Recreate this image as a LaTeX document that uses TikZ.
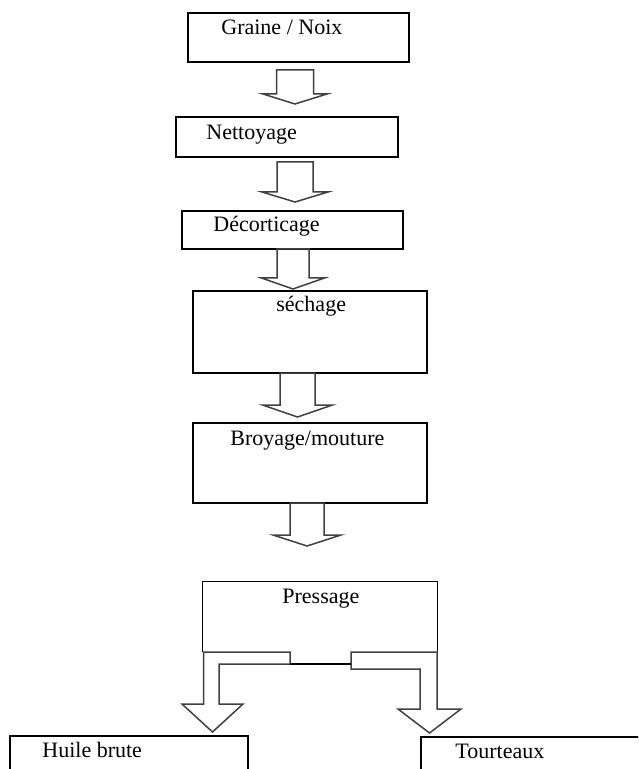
\documentclass[tikz,border=0pt]{standalone}
\usepackage{fontspec}
\setmainfont{Liberation Serif}
\usetikzlibrary{positioning}

% block arrow pointing down: x centre, top, start of head, tip, half shaft, half head
\newcommand{\fleche}[6]{%
  \draw[fleche] ({#1-#5},#2) -- ({#1+#5},#2) -- ({#1+#5},#3) -- ({#1+#6},#3)
    -- (#1,#4) -- ({#1-#6},#3) -- ({#1-#5},#3) -- cycle;}

\begin{document}
\begin{tikzpicture}[x=0.5pt, y=-0.5pt,
vide/.style = {rectangle, inner sep = 0pt},
boite/.style = {vide, draw, line width = 0.7pt},
txt/.style = {inner sep = 0pt, anchor = base west, font = \fontsize{11}{13}\selectfont},
fleche/.style = {draw = black!75, line width = 0.75pt, line join = miter}]

\useasboundingbox (0,0) rectangle (638,769);
\clip (0,0) rectangle (638,769);

% Boxes
\node[boite, minimum width = 110.5pt, minimum height = 24.5pt] (graine) at (298.5,37.5) {};
\node[boite, minimum width = 111pt, minimum height = 20pt] (nettoyage) at (287,137) {};
\node[boite, minimum width = 110.5pt, minimum height = 19pt] (decorticage) at (292.5,230) {};
\node[boite, minimum width = 117pt, minimum height = 41pt] (sechage) at (310,332) {};
\node[boite, minimum width = 117pt, minimum height = 40pt] (broyage) at (310,463) {};
\node[vide, minimum width = 117pt, minimum height = 35pt] (pressage) at (320,617) {};
\node[boite, minimum width = 119pt, minimum height = 32pt] (huile) at (129,768) {};
\node[boite, minimum width = 130pt, minimum height = 32pt] (tourteaux) at (551,769) {};

% Texts
\node[txt] (t-graine) at (221,35) {Graine / Noix};
\node[txt] (t-nettoyage) at (206,140) {Nettoyage};
\node[txt] (t-decorticage) at (213,232) {Décorticage};
\node[txt] (t-sechage) at (276,312) {séchage};
\node[txt] (t-broyage) at (230,445) {Broyage/mouture};
\node[txt] (t-pressage) at (282,603) {Pressage};
\node[txt] (t-huile) at (42,757) {Huile brute};
\node[txt] (t-tourteaux) at (455,758) {Tourteaux};

% open box of the pressing step
\draw[line width = 0.7pt] (pressage.south west) |- (pressage.north east) -- (pressage.south east);

% Arrows
\fleche{295}{70}{94}{104}{18.5}{32}
\fleche{295}{162}{192}{202}{18}{33}
\fleche{293}{249}{278}{289}{16}{31.5}
\fleche{297.5}{373}{405}{417}{17.5}{35}
\fleche{307}{503}{535}{546}{17}{34}

% split towards the two products
\draw[fleche] (203.5,652) -- (290,652) -- (290,664) -- (219,664) -- (219,704)
  -- (243,704) -- (212.5,732) -- (182,704) -- (203.5,704) -- cycle;
\draw[fleche] (437,652) -- (351,652) -- (351,669) -- (420,669) -- (420,709)
  -- (398,709) -- (429.5,733) -- (461,709) -- (437,709) -- cycle;
\coordinate (g-end) at (290,664);
\coordinate (d-end) at (351,664);
\draw[line width = 0.7pt] (g-end) -- (d-end);

\end{tikzpicture}
\end{document}
